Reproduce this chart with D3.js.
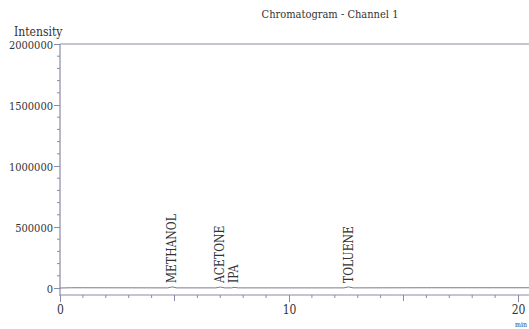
<!DOCTYPE html>
<html>
<head>
<meta charset="utf-8">
<script src="https://cdn.jsdelivr.net/npm/d3@7"></script>
<style>
  body { margin: 0; background: #fff; }
  svg text { fill: #333; font-stretch: condensed; }
</style>
</head>
<body>
<svg id="chart" width="529" height="329"></svg>
<script>
// trace (minutes, intensity)
const traceTimes  = [0, 0.5, 4.7, 4.9, 5.1, 6.8, 7.0, 7.2, 7.5, 7.6, 7.8, 12.4, 12.6, 12.8, 16, 20.6, 21];
const traceValues = [0, 2000, 1000, 9000, 1000, 1000, 8000, 1000, 1000, 5000, 1000, 1000, 9000, 1000, 2000, 2000, 2000];

const peakNames = ["METHANOL", "ACETONE", "IPA", "TOLUENE"];
const peakTimes = [4.9, 7.0, 7.6, 12.6];

const yTicks = [0, 500000, 1000000, 1500000, 2000000];
const xTicks = [0, 10, 20];

const serif = "DejaVu Serif Condensed, DejaVu Serif";
const svg = d3.select("#chart").attr("font-family", serif);
const axisColor = "#8a8aa6";

const x = d3.scaleLinear().domain([0, 20]).range([60, 518]);
const y = d3.scaleLinear().domain([0, 2000000]).range([288, 44]);

// title
svg.append("text")
    .attr("x", 330).attr("y", 18)
    .attr("text-anchor", "middle")
    .attr("font-size", 11)
    .attr("font-family", serif)
    .text("Chromatogram - Channel 1");

svg.append("text")
    .attr("x", 14).attr("y", 36)
    .attr("font-size", 12)
    .attr("font-family", serif)
    .text("Intensity");

// top frame line at full scale
svg.append("line")
    .attr("x1", x(0)).attr("x2", 529)
    .attr("y1", y(2000000)).attr("y2", y(2000000))
    .attr("stroke", axisColor).attr("stroke-width", 1.2);

// y axis
const yAxis = svg.append("g")
    .attr("transform", `translate(${x(0)},0)`)
    .call(d3.axisLeft(y).tickValues(yTicks).tickFormat(d3.format("d")).tickSize(6).tickPadding(1));
yAxis.select(".domain").remove();
yAxis.attr("font-family", serif);
yAxis.selectAll("line").attr("stroke", axisColor);
yAxis.selectAll("text").attr("font-size", 11).attr("fill", "#333")
    .attr("dy", "0.4em");

// y minor ticks
svg.append("g").selectAll("line")
    .data(d3.range(0, 2000001, 100000).filter(v => v % 500000 !== 0))
    .enter().append("line")
    .attr("x1", x(0) - 3).attr("x2", x(0))
    .attr("y1", d => y(d)).attr("y2", d => y(d))
    .attr("stroke", axisColor);

svg.append("line")
    .attr("x1", x(0)).attr("x2", x(0))
    .attr("y1", y(2000000)).attr("y2", 296)
    .attr("stroke", axisColor).attr("stroke-width", 1.2);

// x axis, drawn a little below the zero line
const xAxisY = 295;
const xAxis = svg.append("g")
    .attr("transform", `translate(0,${xAxisY})`)
    .call(d3.axisBottom(x).tickValues(xTicks).tickSize(7).tickPadding(3));
xAxis.select(".domain").remove();
xAxis.attr("font-family", serif);
xAxis.selectAll("line").attr("stroke", axisColor);
xAxis.selectAll("text").attr("font-size", 12).attr("fill", "#333");

svg.append("line")
    .attr("x1", x(0)).attr("x2", 529)
    .attr("y1", xAxisY).attr("y2", xAxisY)
    .attr("stroke", axisColor).attr("stroke-width", 1.2);

svg.append("g").selectAll("line")
    .data(d3.range(0, 21).filter(v => v % 10 !== 0))
    .enter().append("line")
    .attr("x1", d => x(d)).attr("x2", d => x(d))
    .attr("y1", xAxisY).attr("y2", d => xAxisY + (d % 5 === 0 ? 6 : 3))
    .attr("stroke", axisColor);

svg.append("text")
    .attr("x", 515).attr("y", 327)
    .attr("font-size", 7)
    .text("min");

// signal trace
svg.append("path")
    .datum(traceTimes.map((t, i) => [t, traceValues[i]]))
    .attr("fill", "none")
    .attr("stroke", "#7a7a90")
    .attr("stroke-width", 1)
    .attr("d", d3.line().x(d => x(d[0])).y(d => y(d[1])));

// peak labels
svg.append("g").selectAll("text")
    .data(peakNames)
    .enter().append("text")
    .attr("transform", (d, i) => `translate(${x(peakTimes[i]) + 4},${y(0) - 5}) rotate(-90)`)
    .attr("font-size", 12)
    .text(d => d);
</script>
</body>
</html>
